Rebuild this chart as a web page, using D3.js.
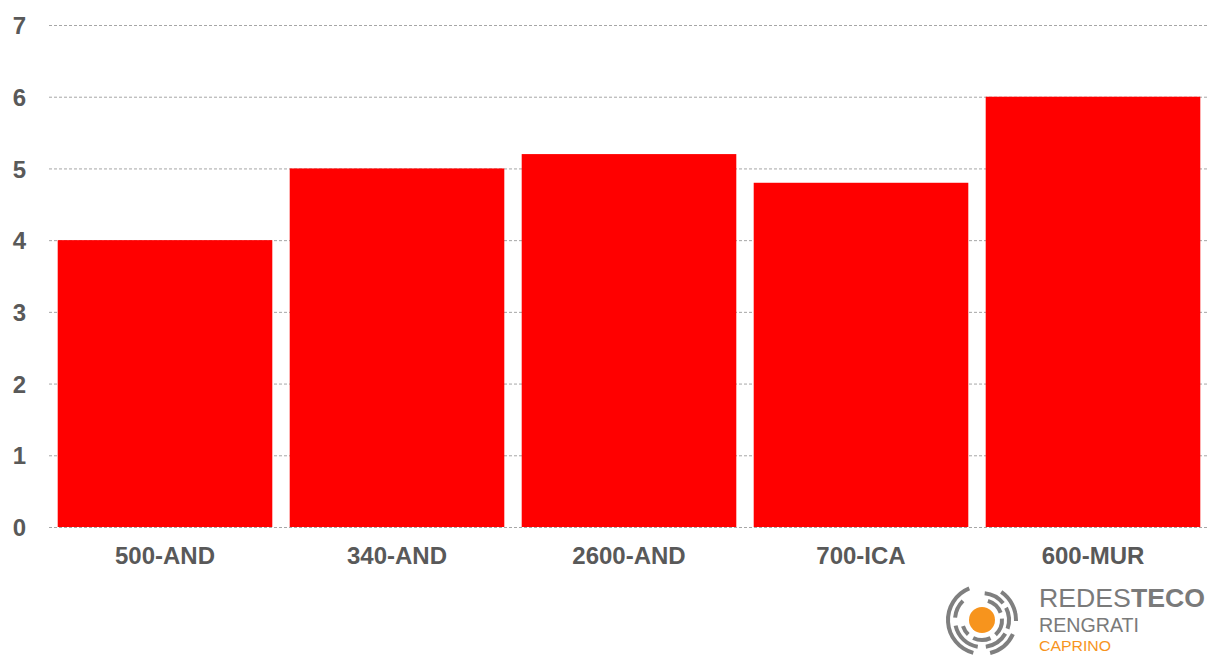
<!DOCTYPE html>
<html><head><meta charset="utf-8">
<script src="https://cdn.jsdelivr.net/npm/d3@7"></script>
<style>body{margin:0;background:#fff}svg{display:block}</style>
</head><body>
<svg id="chart" width="1211" height="655"></svg>
<script>
const categories = ["500-AND", "340-AND", "2600-AND", "700-ICA", "600-MUR"];
const values = [4, 5, 5.2, 4.8, 6];
const yTicks = [0, 1, 2, 3, 4, 5, 6, 7];

const svg = d3.select("#chart");
const x = d3.scaleBand().domain(categories).range([49, 1209]).paddingInner(0.075).paddingOuter(0.0375);
const y = d3.scaleLinear().domain([0, 7]).range([527, 25]);

// gridlines
svg.append("g").selectAll("line").data(yTicks).join("line")
  .attr("x1", 49).attr("x2", 1209)
  .attr("y1", d => y(d) + 0.5).attr("y2", d => y(d) + 0.5)
  .attr("stroke", "#a6a6a6").attr("stroke-width", 1).attr("stroke-dasharray", "3,2");

// bars
svg.append("g").selectAll("rect").data(values).join("rect")
  .attr("x", (d, i) => x(categories[i]))
  .attr("width", x.bandwidth())
  .attr("y", d => y(d))
  .attr("height", d => y(0) - y(d))
  .attr("fill", "#ff0000");

// y axis labels
const yAxis = d3.axisLeft(y).tickValues(yTicks).tickFormat(d3.format("d")).tickSize(0).tickPadding(0);
const gy = svg.append("g").attr("transform", "translate(26,0)").call(yAxis);
gy.select(".domain").remove();
gy.selectAll("text").attr("font-family", "Liberation Sans, Arial, sans-serif")
  .attr("font-size", 24).attr("font-weight", "bold").attr("fill", "#595959")
  .attr("text-anchor", "end").attr("dy", "0.36em");

// x axis labels
const xAxis = d3.axisBottom(x).tickSize(0).tickPadding(0);
const gx = svg.append("g").attr("transform", "translate(0,547)").call(xAxis);
gx.select(".domain").remove();
gx.selectAll("text").attr("font-family", "Liberation Sans, Arial, sans-serif")
  .attr("font-size", 24).attr("font-weight", "bold").attr("fill", "#595959").attr("dy", "0.71em");

// logo
const logo = svg.append("g").attr("transform", "translate(982,620)");
const arc = d3.arc();
const arcs = [
  {r: 20, w: 4, segs: [[0.3, 1.2], [1.5, 2.4], [2.7, 3.6], [3.9, 4.4]]},
  {r: 27, w: 4, segs: [[0.1, 0.9], [1.1, 1.9], [2.1, 3.0], [3.3, 4.5], [4.8, 5.5]]},
  {r: 34, w: 4, segs: [[0.6, 1.6], [2.0, 2.9], [3.4, 5.9]]}
];
arcs.forEach(a => {
  a.segs.forEach(s => {
    logo.append("path").attr("d", arc({innerRadius: a.r - a.w/2, outerRadius: a.r + a.w/2, startAngle: s[0], endAngle: s[1]}))
      .attr("fill", "#7f7f7f");
  });
});
logo.append("circle").attr("r", 13).attr("fill", "#f7941d");

const lf = "Liberation Sans, Arial, sans-serif";
const t1 = svg.append("text").attr("x", 1039).attr("y", 607)
  .attr("font-family", lf).attr("font-size", 25).attr("fill", "#7a7a7a")
  .attr("textLength", 166).attr("lengthAdjust", "spacingAndGlyphs");
t1.append("tspan").attr("font-weight", 400).text("REDES");
t1.append("tspan").attr("font-weight", 700).text("TECO");
svg.append("text").attr("x", 1039).attr("y", 632).attr("font-family", lf)
  .attr("font-size", 21).attr("font-weight", 400).attr("fill", "#7a7a7a")
  .attr("textLength", 100).attr("lengthAdjust", "spacingAndGlyphs").text("RENGRATI");
svg.append("text").attr("x", 1039).attr("y", 651).attr("font-family", lf)
  .attr("font-size", 15).attr("font-weight", 400).attr("fill", "#f7941d")
  .attr("textLength", 72).attr("lengthAdjust", "spacingAndGlyphs").text("CAPRINO");
</script>
</body></html>
